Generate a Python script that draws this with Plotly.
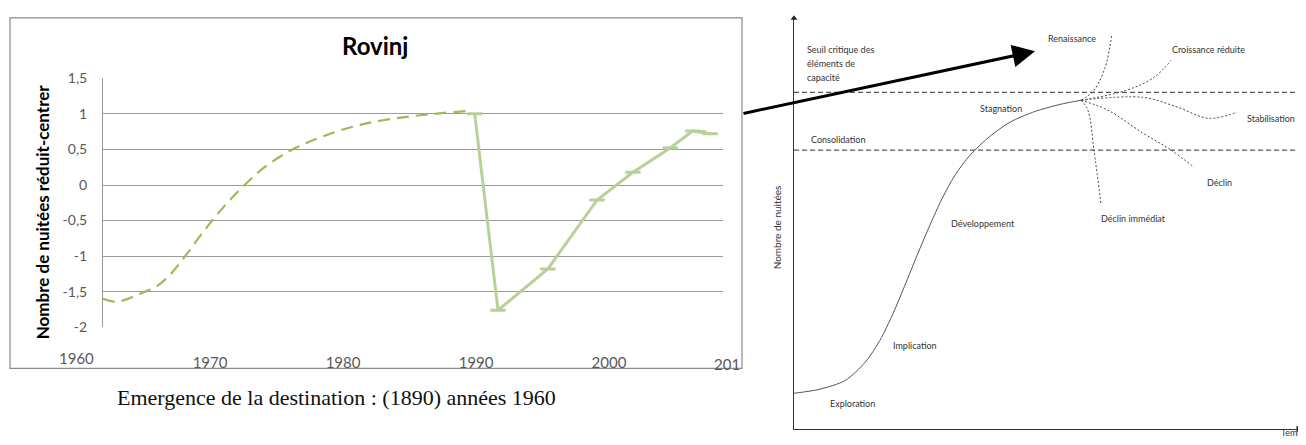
import plotly.graph_objects as go

# ---------------- Left chart data (Rovinj) ----------------
dashed_years = [1961.95, 1963.0, 1964.7, 1966.0, 1967.0, 1968.0, 1969.2, 1970.2, 1971.3,
                1972.6, 1974.1, 1976.2, 1978.3, 1980.75, 1983.0, 1985.8, 1989.3]
dashed_values = [-1.60, -1.64, -1.53, -1.42, -1.26, -1.03, -0.73, -0.49, -0.25,
                 0.0, 0.25, 0.50, 0.67, 0.82, 0.91, 0.98, 1.04]

solid_years = [1989.9, 1991.65, 1995.4, 1999.1, 2001.8, 2004.6, 2006.3, 2006.7, 2007.6]
solid_values = [1.0, -1.76, -1.18, -0.21, 0.18, 0.52, 0.76, 0.75, 0.72]

y_tick_vals = [-2, -1.5, -1, -0.5, 0, 0.5, 1, 1.5]
y_tick_text = ["-2", "-1,5", "-1", "-0,5", "0", "0,5", "1", "1,5"]
x_tick_vals = [1970, 1980, 1990, 2000]
x_tick_text = ["1970", "1980", "1990", "2000"]

# ---------------- Right diagram data (Butler cycle, schematic units) ----------------
main_t = [0, 5.1, 10.0, 13.9, 16.8, 19.4, 21.7, 24.1, 26.6, 29.0, 31.5, 34.4, 38.4,
          42.3, 47.2, 52.1, 56.2]
main_n = [9.0, 10.0, 12.1, 16.5, 21.8, 28.4, 35.2, 42.5, 49.8, 56.3, 61.9, 66.7, 71.4,
          74.8, 77.4, 79.1, 80.1]

renaissance_t = [56.2, 58.7, 60.9, 61.8, 62.2]
renaissance_n = [80.1, 82.5, 88.1, 93.0, 95.9]
croissance_t = [56.2, 65.0, 70.5, 73.8]
croissance_n = [80.1, 82.5, 85.7, 89.8]
stabilisation_t = [56.2, 68.3, 75.1, 81.2, 86.7]
stabilisation_n = [80.1, 80.8, 78.4, 75.7, 77.2]
declin_t = [56.2, 61.4, 68.3, 73.8, 78.3]
declin_n = [80.1, 77.7, 72.1, 68.0, 63.8]
declin_imm_t = [56.2, 57.5, 58.7, 60.1]
declin_imm_n = [80.1, 77.7, 68.0, 54.6]

thresholds = [82.0, 68.0]

stage_labels = ["Renaissance", "Croissance réduite", "Stagnation", "Stabilisation",
                "Consolidation", "Déclin", "Déclin immédiat", "Développement",
                "Implication", "Exploration"]
stage_t = [54.4, 81.2, 40.5, 93.3, 8.6, 83.2, 66.5, 37.0, 23.7, 11.5]
stage_n = [95.1, 92.5, 78.2, 75.7, 70.6, 60.2, 51.5, 50.2, 20.6, 6.6]
seuil_lines = ["Seuil critique des", "éléments de", "capacité"]
seuil_n = [92.5, 89.1, 85.7]

# page has an 8px body margin: figure is sized so the page fits the window exactly
OFF = 8
W, H = 1306 - 2 * OFF, 445 - 2 * OFF


def px(x):
    return (x - OFF) / W


def py(y):
    true_y = (y - 9.1) / 0.96
    return (H - (true_y - OFF)) / H


def clamp(v):
    return min(max(v, 0.0), 1.0)


T_MAX = (1298 - 794) / 5.11
# vertical mapping of the schematic diagram (n = 0 at the time axis, 100 at the arrow tip)
p0, p100 = py(430), py(18)
N_LO = -p0 * 100 / (p100 - p0) if p0 < 0 else 0.0
Y2_DOMAIN = [max(p0, 0.0), p100]

fig = go.Figure()

# Left chart traces
fig.add_trace(go.Scatter(x=dashed_years, y=dashed_values, mode="lines",
                         line=dict(color="#9BBB59", width=2.2, dash="12px,7px", shape="spline"),
                         xaxis="x", yaxis="y", showlegend=False, hoverinfo="skip"))
fig.add_trace(go.Scatter(x=solid_years, y=solid_values, mode="lines+markers",
                         line=dict(color="#B7D199", width=3),
                         marker=dict(symbol="line-ew", size=11,
                                     line=dict(color="#B7D199", width=3)),
                         xaxis="x", yaxis="y", showlegend=False, hoverinfo="skip"))

# Right diagram traces
for th in thresholds:
    fig.add_trace(go.Scatter(x=[0, T_MAX], y=[th, th], mode="lines",
                             line=dict(color="#555555", width=1.2, dash="5px,3px"),
                             xaxis="x2", yaxis="y2", showlegend=False, hoverinfo="skip"))
fig.add_trace(go.Scatter(x=main_t, y=main_n, mode="lines",
                         line=dict(color="#555555", width=1, shape="spline", smoothing=0.8),
                         xaxis="x2", yaxis="y2", showlegend=False, hoverinfo="skip"))
for bt, bn in [(renaissance_t, renaissance_n), (croissance_t, croissance_n),
               (stabilisation_t, stabilisation_n), (declin_t, declin_n),
               (declin_imm_t, declin_imm_n)]:
    fig.add_trace(go.Scatter(x=bt, y=bn, mode="lines",
                             line=dict(color="#444444", width=1, dash="2px,2px", shape="spline"),
                             xaxis="x2", yaxis="y2", showlegend=False, hoverinfo="skip"))
# axis arrowheads
fig.add_trace(go.Scatter(x=[0], y=[100], mode="markers",
                         marker=dict(symbol="triangle-up", size=6, color="#222222"),
                         cliponaxis=False, xaxis="x2", yaxis="y2",
                         showlegend=False, hoverinfo="skip"))
fig.add_trace(go.Scatter(x=[T_MAX], y=[N_LO], mode="markers",
                         marker=dict(symbol="triangle-right", size=6, color="#222222"),
                         cliponaxis=False, xaxis="x2", yaxis="y2",
                         showlegend=False, hoverinfo="skip"))

ytick_font = dict(family="Lato, Open Sans, sans-serif", size=14, color="#595959")
xtick_font = dict(family="Lato, Open Sans, sans-serif", size=15, color="#595959")
small_font = dict(family="Lato, Open Sans, sans-serif", size=9, color="#333333")

annotations = []
# Left chart title & extra year labels
annotations.append(dict(text="<b>Rovinj</b>", x=px(375), y=py(45), xref="paper", yref="paper",
                        xanchor="center", yanchor="middle",
                        showarrow=False, font=dict(family="Lato, sans-serif", size=24, color="#000000")))
annotations.append(dict(text="<b>Nombre de nuitées réduit-centrer</b>", x=px(42), y=py(212),
                        xref="paper", yref="paper", xanchor="center", yanchor="middle",
                        showarrow=False, textangle=-90,
                        font=dict(family="Lato, sans-serif", size=17, color="#000000")))
annotations.append(dict(text="1960", x=px(76), y=py(358), xref="paper", yref="paper",
                        xanchor="center", yanchor="middle", showarrow=False, font=xtick_font))
annotations.append(dict(text="201", x=px(742), y=py(364), xref="paper", yref="paper",
                        xanchor="right", yanchor="middle", showarrow=False, font=xtick_font))
# Caption
annotations.append(dict(text="Emergence de la destination : (1890) années 1960",
                        x=px(336), y=py(397), xref="paper", yref="paper",
                        xanchor="center", yanchor="middle", showarrow=False,
                        font=dict(family="Liberation Serif, serif", size=22, color="#111111")))
# Right diagram labels
for lab, t, n in zip(stage_labels, stage_t, stage_n):
    annotations.append(dict(text=lab, x=t, y=n, xref="x2", yref="y2", showarrow=False,
                            xanchor="center", yanchor="middle", font=small_font))
for lab, n in zip(seuil_lines, seuil_n):
    annotations.append(dict(text=lab, x=2.2, y=n, xref="x2", yref="y2", xanchor="left",
                            yanchor="middle", showarrow=False, font=small_font))
annotations.append(dict(text="Nombre de nuitées", x=px(777), y=py(227), xref="paper", yref="paper",
                        xanchor="center", yanchor="middle", textangle=-90, showarrow=False,
                        font=dict(family="Lato, sans-serif", size=10, color="#333333")))
# axis title sits at the very bottom edge, only its top shows (as in the reference)
annotations.append(dict(text="Temps", x=px(1279), y=4 / H, xref="paper", yref="paper",
                        xanchor="left", yanchor="top", showarrow=False, font=small_font))
# Big black arrow
annotations.append(dict(text="", x=px(1035), y=py(51), xref="paper", yref="paper",
                        ax=742 - 1035, ay=(111 - 51) / 0.96, axref="pixel", ayref="pixel",
                        showarrow=True, arrowhead=2, arrowsize=1.5, arrowwidth=3,
                        arrowcolor="#000000", standoff=0, startstandoff=0))

shapes = [dict(type="rect", xref="paper", yref="paper", x0=px(10), x1=px(742),
               y0=clamp(py(368)), y1=min(py(12), 0.998),
               line=dict(color="#8c8c8c", width=1.2), fillcolor="rgba(0,0,0,0)", layer="below")]

fig.update_layout(
    width=W, height=H, autosize=False,
    margin=dict(l=0, r=0, t=0, b=0),
    paper_bgcolor="white", plot_bgcolor="rgba(0,0,0,0)",
    showlegend=False,
    xaxis=dict(domain=[px(103), px(723)], range=[1961.95, 2008.57], anchor="y",
               tickvals=x_tick_vals, ticktext=x_tick_text, tickfont=xtick_font,
               showgrid=False, zeroline=False, showline=False, ticks="",
               ticklabelstandoff=25),
    yaxis=dict(domain=[py(327), py(78)], range=[-2, 1.5], anchor="x",
               tickvals=y_tick_vals, ticktext=y_tick_text, tickfont=ytick_font,
               showgrid=True, gridcolor="#9a9a9a", gridwidth=1, zeroline=False,
               showline=True, linecolor="#9a9a9a", linewidth=1, ticks="",
               ticklabelstandoff=12),
    xaxis2=dict(domain=[px(794), 1.0], range=[0, T_MAX], anchor="y2",
                showgrid=False, zeroline=False, showticklabels=False, ticks="",
                showline=True, linecolor="#333333", linewidth=1.2),
    yaxis2=dict(domain=Y2_DOMAIN, range=[N_LO, 100], anchor="x2",
                showgrid=False, zeroline=False, showticklabels=False, ticks="",
                showline=True, linecolor="#333333", linewidth=1.2),
    annotations=annotations,
    shapes=shapes,
)

fig.write_html("out.html")
